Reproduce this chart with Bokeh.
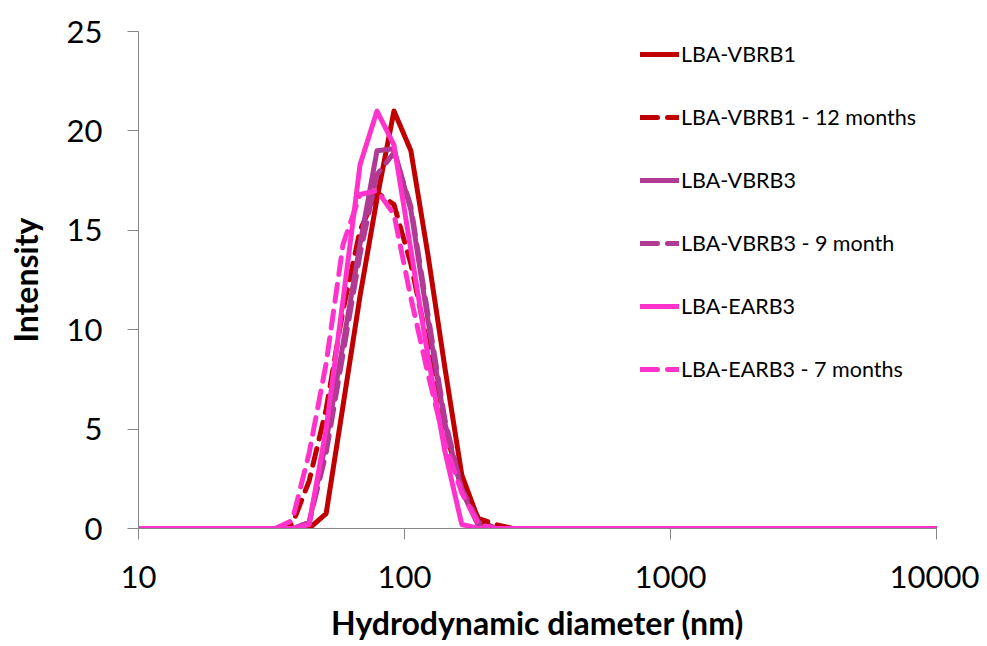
from bokeh.plotting import figure
from bokeh.models import FixedTicker, PrintfTickFormatter, Legend, LegendItem, Range1d
from bokeh.embed import file_html
from bokeh.resources import INLINE

# Size bins (nm)
sizes = [10.10, 11.70, 13.54, 15.69, 18.17, 21.04, 24.36, 28.21, 32.67,
         37.84, 43.82, 50.75, 58.77, 68.06, 78.82, 91.28, 105.7, 122.4,
         141.8, 164.2, 190.1, 220.2,
         255.0, 295.3, 342.0, 396.1, 458.7, 531.2, 615.1, 712.4, 825.0,
         955.4, 1106, 1281, 1484, 1718, 1990, 2305, 2669, 3091, 3580, 4145,
         4801, 5560, 6439, 7456, 8635, 10000]

vbrb1 = [0, 0, 0, 0, 0, 0, 0, 0, 0,
         0, 0, 0.75, 6.2, 11.7, 16.6, 21.0, 19.0, 13.8, 8.1, 2.7, 0.4, 0,
         0, 0, 0, 0, 0, 0, 0, 0, 0, 0, 0, 0, 0, 0, 0, 0, 0, 0, 0, 0, 0, 0, 0, 0, 0, 0]
vbrb1_12m = [0, 0, 0, 0, 0, 0, 0, 0, 0,
             0.2, 2.4, 6.0, 11.0, 15.0, 16.9, 16.3, 13.3, 9.2, 5.0, 2.0, 0.5, 0.2,
             0, 0, 0, 0, 0, 0, 0, 0, 0, 0, 0, 0, 0, 0, 0, 0, 0, 0, 0, 0, 0, 0, 0, 0, 0, 0]
vbrb3 = [0, 0, 0, 0, 0, 0, 0, 0, 0,
         0, 0.3, 4.4, 9.3, 14.3, 19.0, 19.1, 16.0, 10.5, 5.3, 1.9, 0.1, 0,
         0, 0, 0, 0, 0, 0, 0, 0, 0, 0, 0, 0, 0, 0, 0, 0, 0, 0, 0, 0, 0, 0, 0, 0, 0, 0]
vbrb3_9m = [0, 0, 0, 0, 0, 0, 0, 0, 0,
            0, 0.3, 3.8, 8.8, 13.8, 17.8, 18.9, 16.2, 10.8, 5.5, 2.0, 0.3, 0,
            0, 0, 0, 0, 0, 0, 0, 0, 0, 0, 0, 0, 0, 0, 0, 0, 0, 0, 0, 0, 0, 0, 0, 0, 0, 0]
earb3 = [0, 0, 0, 0, 0, 0, 0, 0, 0,
         0, 0.2, 5.0, 11.5, 18.3, 21.0, 19.3, 14.0, 8.7, 3.9, 0.2, 0, 0,
         0, 0, 0, 0, 0, 0, 0, 0, 0, 0, 0, 0, 0, 0, 0, 0, 0, 0, 0, 0, 0, 0, 0, 0, 0, 0]
earb3_7m = [0, 0, 0, 0, 0, 0, 0, 0, 0,
            0.4, 3.8, 8.3, 14.3, 16.8, 17.0, 15.8, 11.6, 7.8, 4.3, 1.8, 0.2, 0,
            0, 0, 0, 0, 0, 0, 0, 0, 0, 0, 0, 0, 0, 0, 0, 0, 0, 0, 0, 0, 0, 0, 0, 0, 0, 0]

series_labels = ["LBA-VBRB1", "LBA-VBRB1 - 12 months", "LBA-VBRB3",
                 "LBA-VBRB3 - 9 month", "LBA-EARB3", "LBA-EARB3 - 7 months"]
series_values = [vbrb1, vbrb1_12m, vbrb3, vbrb3_9m, earb3, earb3_7m]
series_colors = ["#C00000", "#C00000", "#B03A94", "#B03A94", "#FF33CC", "#FF33CC"]
series_dash = ["solid", "17 10", "solid", "17 10", "solid", "17 10"]

x_ticks = [10, 100, 1000, 10000]
y_ticks = [0, 5, 10, 15, 20, 25]

p = figure(width=979, height=644, x_axis_type="log",
           x_range=Range1d(10, 10000), y_range=Range1d(0, 25),
           output_backend="svg", toolbar_location=None,
           min_border_left=138, min_border_right=43,
           min_border_top=31, min_border_bottom=116,
           x_axis_label="Hydrodynamic diameter (nm)", y_axis_label="Intensity")

p.grid.visible = False
p.outline_line_color = None
p.background_fill_color = "white"
p.border_fill_color = "white"

items = []
for lab, vals, col, dash in zip(series_labels, series_values, series_colors, series_dash):
    r = p.line(sizes, vals, line_color=col, line_width=5, line_dash=dash,
               line_cap="round", line_join="round")
    items.append(LegendItem(label=lab, renderers=[r]))

legend = Legend(items=items, location=(502, 146), orientation="vertical",
                glyph_width=39, glyph_height=24, label_height=24, spacing=37,
                padding=0, margin=0, border_line_alpha=0, background_fill_alpha=0,
                label_text_font="Lato", label_text_font_size="21.5px",
                label_standoff=2, label_text_color="black")
p.add_layout(legend)

for ax in (p.xaxis[0], p.yaxis[0]):
    ax.axis_line_color = "#868686"
    ax.major_tick_line_color = "#868686"
    ax.minor_tick_line_color = None
    ax.major_tick_out = 11
    ax.major_tick_in = 0
    ax.major_label_text_font = "Lato"
    ax.major_label_text_font_size = "31px"
    ax.major_label_text_color = "black"
    ax.axis_label_text_font = "Lato"
    ax.axis_label_text_font_size = "32px"
    ax.axis_label_text_font_style = "bold"
    ax.axis_label_text_color = "black"

p.xaxis[0].ticker = FixedTicker(ticks=x_ticks)
p.xaxis[0].formatter = PrintfTickFormatter(format="%d")
p.xaxis[0].major_label_standoff = 26
p.xaxis[0].axis_label_standoff = 12
p.yaxis[0].ticker = FixedTicker(ticks=y_ticks)
p.yaxis[0].major_label_standoff = 25
p.yaxis[0].axis_label_standoff = 19

open("out.html", "w").write(file_html(p, INLINE))
